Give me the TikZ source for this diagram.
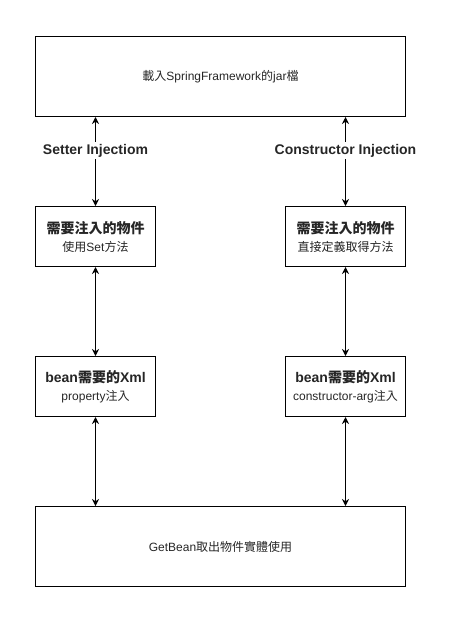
\documentclass[tikz,border=0pt]{standalone}
\usepackage{fontspec}
\setmainfont{Liberation Sans}
\newfontfamily\cjk{Noto Sans CJK TC}
\newcommand{\zh}[1]{{\cjk #1}}
\newcommand{\headline}[1]{{\fontsize{14}{18}\selectfont\bfseries #1}}
\usetikzlibrary{arrows.meta,positioning}

\begin{document}
\begin{tikzpicture}[x=1pt, y=-1pt, font=\fontsize{12}{18}\selectfont,
		box/.style={draw, line width=1pt, minimum height=60pt, minimum width=120pt,
		inner sep=0pt, align=center, text=black!85},
		wide/.style={box, minimum width=370pt, minimum height=80pt},
		link/.style={line width=1pt, {Stealth[length=7pt,width=7pt]}-{Stealth[length=7pt,width=7pt]}},
		tag/.style={fill=white, font=\fontsize{14}{16}\selectfont\bfseries, text=black!85, inner sep=2pt}]
	\useasboundingbox (0, 0) rectangle (454, 624);
	\node[wide] (0) at (220.5, 76.5) {\zh{載入}SpringFramework\zh{的}jar\zh{檔}};
	\node[box] (1) at (95.5, 236.5) {\headline{\zh{需要注入的物件}}\\\zh{使用}Set\zh{方法}};
	\node[box] (2) at (345.5, 236.5) {\headline{\zh{需要注入的物件}}\\\zh{直接定義取得方法}};
	\node[box] (3) at (95.5, 386.5) {\headline{bean\zh{需要的}Xml}\\property\zh{注入}};
	\node[box] (4) at (345.5, 386.5) {\headline{bean\zh{需要的}Xml}\\constructor-arg\zh{注入}};
	\node[wide] (5) at (220.5, 546.5) {GetBean\zh{取出物件實體使用}};
	\draw[link] (0.south -| 1.north) to node[tag, pos=0.38] {Setter Injectiom} (1);
	\draw[link] (0.south -| 2.north) to node[tag, pos=0.38] {Constructor Injection} (2);
	\draw[link] (1) to (3);
	\draw[link] (2) to (4);
	\draw[link] (3) to (5.north -| 3.south);
	\draw[link] (4) to (5.north -| 4.south);
\end{tikzpicture}
\end{document}
